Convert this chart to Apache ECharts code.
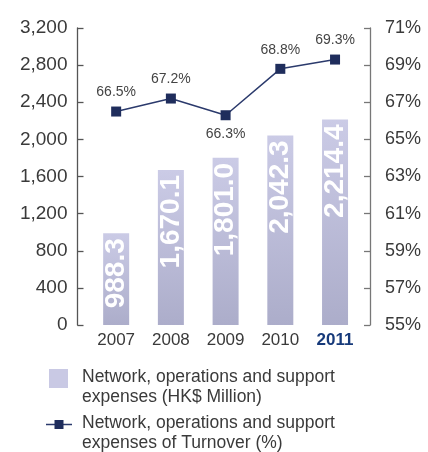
<!DOCTYPE html>
<html>
<head>
<meta charset="utf-8">
<script src="https://cdn.jsdelivr.net/npm/echarts@6/dist/echarts.min.js"></script>
<style>
html,body{margin:0;padding:0;background:#fff;}
#c{width:428px;height:452px;}
</style>
</head>
<body>
<div id="c"></div>
<script>
var years = ['2007', '2008', '2009', '2010', '2011'];
var expenses = [988.3, 1670.1, 1801.0, 2042.3, 2214.4];
var turnoverPct = [66.5, 67.2, 66.3, 68.8, 69.3];
var leftTicks = {min: 0, max: 3200, interval: 400};
var rightTicks = {min: 55, max: 71, interval: 2};
var seriesNames = ['Network, operations and support\nexpenses (HK$ Million)',
                   'Network, operations and support\nexpenses of Turnover (%)'];
var highlightYear = '2011';

var FONT = '"Liberation Sans", Arial, Helvetica, sans-serif';
var chart = echarts.init(document.getElementById('c'), null, {renderer: 'canvas'});

var lineData = turnoverPct.map(function (v, i) {
  var below = (i > 0 && i < turnoverPct.length - 1 && v < turnoverPct[i - 1] && v < turnoverPct[i + 1]);
  return below ? {value: v, label: {position: 'bottom'}} : v;
});

chart.setOption({
  animation: false,
  grid: {left: 88.8, right: 65.6, top: 28, bottom: 127, containLabel: false},
  xAxis: {
    type: 'category',
    data: years,
    axisLine: {show: false},
    axisTick: {show: false},
    axisLabel: {
      interval: 0,
      hideOverlap: false,
      margin: 7,
      fontFamily: FONT,
      fontSize: 17,
      color: '#3a3a3a',
      formatter: function (v) { return v === highlightYear ? '{b|' + v + '}' : v; },
      rich: {b: {fontFamily: FONT, fontSize: 17, fontWeight: 'bold', color: '#173a7a'}}
    }
  },
  yAxis: [{
    type: 'value',
    min: leftTicks.min, max: leftTicks.max, interval: leftTicks.interval,
    position: 'left',
    offset: 11.3,
    axisLine: {show: true, lineStyle: {color: '#555', width: 1.3}},
    axisTick: {show: true, inside: true, length: 6, lineStyle: {color: '#555', width: 1.3}},
    splitLine: {show: false},
    axisLabel: {
      margin: 10,
      fontFamily: FONT, fontSize: 19, color: '#3a3a3a',
      formatter: function (v) { return v.toLocaleString('en-US'); }
    }
  }, {
    type: 'value',
    min: rightTicks.min, max: rightTicks.max, interval: rightTicks.interval,
    position: 'right',
    offset: 7.6,
    axisLine: {show: true, lineStyle: {color: '#777', width: 1.3}},
    axisTick: {show: true, inside: true, length: 6, lineStyle: {color: '#777', width: 1.3}},
    splitLine: {show: false},
    axisLabel: {
      margin: 15,
      fontFamily: FONT, fontSize: 18, color: '#3a3a3a',
      formatter: function (v) { return v + '%'; }
    }
  }],
  series: [{
    name: seriesNames[0],
    type: 'bar',
    data: expenses,
    barWidth: 26,
    itemStyle: {
      color: new echarts.graphic.LinearGradient(0, 0, 0, 1, [
        {offset: 0, color: '#cbcbe6'},
        {offset: 1, color: '#acadca'}
      ])
    },
    label: {
      show: true,
      position: 'insideTop',
      distance: 5,
      rotate: 90,
      align: 'right',
      verticalAlign: 'middle',
      fontFamily: FONT,
      fontSize: 28,
      fontWeight: 'bold',
      color: '#ffffff',
      formatter: function (p) {
        return p.value.toLocaleString('en-US', {minimumFractionDigits: 1, maximumFractionDigits: 1});
      }
    }
  }, {
    name: seriesNames[1],
    type: 'line',
    yAxisIndex: 1,
    data: lineData,
    z: 5,
    symbol: 'rect',
    symbolSize: 10,
    lineStyle: {color: '#2b3a6c', width: 1.5},
    itemStyle: {color: '#1f2d5c'},
    label: {
      show: true,
      position: 'top',
      distance: 7,
      fontFamily: FONT,
      fontSize: 14,
      color: '#444',
      formatter: function (p) { return p.value.toFixed(1) + '%'; }
    }
  }],
  graphic: [
    {type: 'rect', shape: {x: 49, y: 369, width: 19, height: 19}, style: {fill: '#c9c9e4'}},
    {type: 'text', x: 82, y: 367.5, style: {text: seriesNames[0], font: '17.5px ' + FONT, lineHeight: 20, fill: '#3a3a3a', textVerticalAlign: 'top'}},
    {type: 'line', shape: {x1: 46, y1: 424.5, x2: 72, y2: 424.5}, style: {stroke: '#2b3a6c', lineWidth: 1.5}},
    {type: 'rect', shape: {x: 54.5, y: 420, width: 9, height: 9}, style: {fill: '#1f2d5c'}},
    {type: 'text', x: 82, y: 413.5, style: {text: seriesNames[1], font: '17.5px ' + FONT, lineHeight: 20, fill: '#3a3a3a', textVerticalAlign: 'top'}}
  ]
});
</script>
</body>
</html>
